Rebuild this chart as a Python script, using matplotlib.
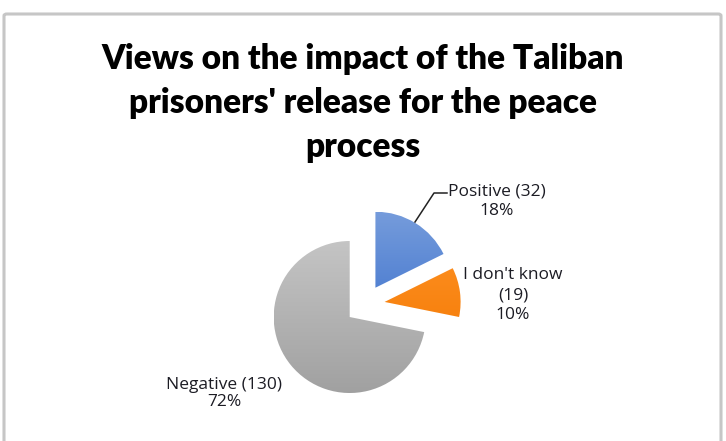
import numpy as np
import matplotlib
matplotlib.use("Agg")
import matplotlib.pyplot as plt
from matplotlib.patches import FancyBboxPatch

# survey answers
labels = ["Positive", "I don't know", "Negative"]
counts = [32, 19, 130]
percents = [18, 10, 72]
title = "Views on the impact of the Taliban\nprisoners' release for the peace\nprocess"

# light/dark ends of each slice gradient
grad_colors = [
    ((0.46, 0.61, 0.86), (0.19, 0.41, 0.79)),
    ((1.00, 0.58, 0.15), (0.95, 0.46, 0.00)),
    ((0.77, 0.77, 0.77), (0.63, 0.63, 0.63)),
]

W, H = 726, 441
fig = plt.figure(figsize=(W / 100, H / 100), dpi=100)

# outer chart frame, open at the bottom edge of the image
frame = FancyBboxPatch((4 / W, -10 / H), 717 / W, 437 / H,
                       boxstyle="round,pad=0,rounding_size=0.004",
                       transform=fig.transFigure, facecolor="none",
                       edgecolor="#c6c6c6", linewidth=2.2, clip_on=False,
                       zorder=-1)
fig.patches.append(frame)

fig.text(0.5, 1 - 103 / H, title, ha="center", va="center",
         fontsize=24, fontweight="heavy", family="Lato", linespacing=1.45)

# pie axes: center at (365, 304.5) px, radius 76 px
R = 76
k = 1.6
cx, cy = 365, H - 304.5
ax = fig.add_axes([(cx - k * R) / W, (cy - k * R) / H, 2 * k * R / W, 2 * k * R / H])
wedges, _ = ax.pie(counts, startangle=90, counterclock=False,
                   explode=[0.26, 0.26, 0.26], colors=["none"] * 3,
                   wedgeprops=dict(linewidth=0))

# vertical gradient clipped to every wedge
yy = np.linspace(1, 0, 256)[:, None]
for w, (top, bot) in zip(wedges, grad_colors):
    top, bot = np.array(top), np.array(bot)
    img = top[None, None, :] * yy[:, :, None] + bot[None, None, :] * (1 - yy[:, :, None])
    img = np.repeat(img, 2, axis=1)
    x0, y0 = w.center
    im = ax.imshow(img, extent=[x0 - 1, x0 + 1, y0 - 1, y0 + 1],
                   origin="upper", aspect="auto", zorder=1)
    im.set_clip_path(w)
ax.set_xlim(-k, k)
ax.set_ylim(-k, k)
ax.set_aspect("equal")
ax.axis("off")


def px(x, y):
    return (x - 365) / R, (304.5 - y) / R


lab_font = dict(family="Open Sans", fontsize=12.5, color="#1c1c24",
                ha="center", va="center")
ax.text(*px(497, 201.5), f"{labels[0]} ({counts[0]})\n{percents[0]}%",
        linespacing=1.32, **lab_font)
ax.text(*px(513, 295), f"{labels[1]}\n({counts[1]})\n{percents[1]}%",
        linespacing=1.32, **lab_font)
ax.text(*px(224, 393.5), f"{labels[2]} ({counts[2]})\n{percents[2]}%",
        linespacing=1.12, **lab_font)

# leader line for the positive slice
lx, ly = zip(px(447, 193), px(434, 193), px(415, 222))
ax.plot(lx, ly, color="#222222", linewidth=1.1, zorder=3)

fig.savefig("out.png", dpi=100)
